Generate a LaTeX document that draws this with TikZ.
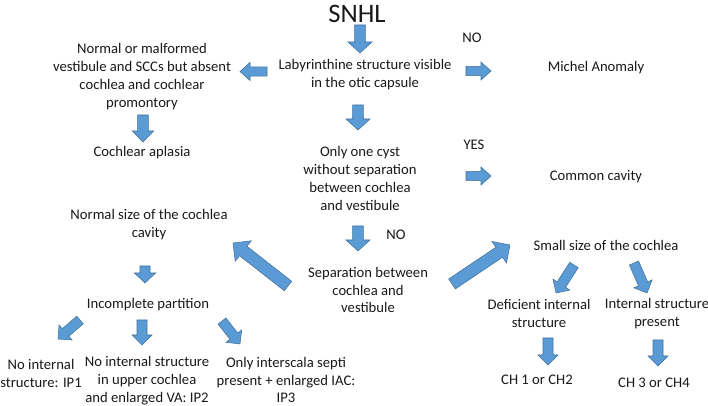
\documentclass[tikz,border=0pt]{standalone}
\usepackage{fontspec}
\setmainfont{Carlito}
\usetikzlibrary{calc}
\definecolor{arrowblue}{RGB}{91,155,213}
\definecolor{arrowedge}{RGB}{65,113,156}
\tikzset{
  txt/.style={font=\fontsize{11}{13.4}\selectfont, align=center, inner sep=1pt, text=black!90},
  barrow/.style={fill=arrowblue, draw=arrowedge, line width=0.4pt, line join=miter},
}
% block arrow: tail, tip, half shaft, half head, head length
\newcommand{\blockarrow}[5]{%
  \coordinate (ba-s) at #1;
  \coordinate (ba-e) at #2;
  \coordinate (ba-h) at ($(ba-e)!#5!(ba-s)$);
  \draw[barrow] ($(ba-s)!#3!-90:(ba-e)$) -- ($(ba-h)!#3!90:(ba-s)$) -- ($(ba-h)!#4!90:(ba-s)$) -- (ba-e)
    -- ($(ba-h)!#4!-90:(ba-s)$) -- ($(ba-h)!#3!-90:(ba-s)$) -- ($(ba-s)!#3!90:(ba-e)$) -- cycle;}
\begin{document}
\begin{tikzpicture}[x=0.75pt,y=-0.75pt]
	\useasboundingbox (0,0) rectangle (708,406);
	% top
	\node[txt,font=\fontsize{20}{24}\selectfont] (snhl) at (357,14) {SNHL};
	\node[txt] (lab) at (365,75) {Labyrinthine structure visible\\in the otic capsule};
	\node[txt] (malf) at (142,76.5) {Normal or malformed\\vestibule and SCCs but absent\\cochlea and cochlear\\promontory};
	\node[txt] (aplasia) at (142,153) {Cochlear aplasia};
	\node[txt] (no1) at (472,38) {NO};
	\node[txt] (michel) at (596,68) {Michel Anomaly};
	% middle
	\node[txt] (cyst) at (360,178.5) {Only one cyst\\without separation\\between cochlea\\and vestibule};
	\node[txt] (yes) at (474,145) {YES};
	\node[txt] (common) at (596,177) {Common cavity};
	\node[txt] (no2) at (396,235) {NO};
	\node[txt] (sep) at (368,290) {Separation between\\cochlea and\\vestibule};
	% left branch
	\node[txt] (normal) at (149,224.5) {Normal size of the cochlea\\cavity};
	\node[txt] (incomplete) at (148,305) {Incomplete partition};
	\node[txt] (ip1) at (41,373.5) {No internal\\structure: IP1};
	\node[txt] (ip2) at (147,381) {No internal structure\\in upper cochlea\\and enlarged VA: IP2};
	\node[txt] (ip3) at (286,380) {Only interscala septi\\present + enlarged IAC:\\IP3};
	% right branch
	\node[txt] (small) at (606,245) {Small size of the cochlea};
	\node[txt] (deficient) at (539,313.5) {Deficient internal\\structure};
	\node[txt] (internal) at (657,313.5) {Internal structure\\present};
	\node[txt] (ch12) at (537,380) {CH 1 or CH2};
	\node[txt] (ch34) at (654,383) {CH 3 or CH4};
	% arrows
	\blockarrow{($(snhl)+(3,11)$)}{($(lab)+(-5,-22)$)}{4.1pt}{9pt}{8.25pt}
	\blockarrow{($(lab)+(-98,-3.5)$)}{($(malf)+(98,-5)$)}{3.4pt}{6.75pt}{7.5pt}
	\blockarrow{($(lab)+(101,-4)$)}{($(michel)+(-105,3)$)}{3.4pt}{6.75pt}{7.5pt}
	\blockarrow{($(malf)+(1,38.5)$)}{($(aplasia)+(1,-11)$)}{4.1pt}{8pt}{8.25pt}
	\blockarrow{($(lab)+(-7,30)$)}{($(cyst)+(-2,-48.5)$)}{4.1pt}{9pt}{8.25pt}
	\blockarrow{($(cyst)+(106,-2.5)$)}{($(common)+(-105,-1)$)}{3.4pt}{6.75pt}{7.5pt}
	\blockarrow{($(cyst)+(-2,47.5)$)}{($(sep)+(-10,-39)$)}{4.1pt}{9pt}{8.25pt}
	\blockarrow{($(sep)+(-80,-4)$)}{($(normal)+(84,18.5)$)}{4.5pt}{9.75pt}{9.75pt}
	\blockarrow{($(sep)+(84,-6)$)}{($(small)+(-96,0)$)}{4.5pt}{9.75pt}{9.75pt}
	\blockarrow{($(normal)+(-4,41.5)$)}{($(incomplete)+(-3,-22)$)}{3.75pt}{8pt}{7.5pt}
	\blockarrow{($(incomplete)+(-68,15)$)}{($(ip1)+(17,-34.5)$)}{3.75pt}{7.5pt}{7.5pt}
	\blockarrow{($(incomplete)+(-6,15)$)}{($(ip2)+(-5,-36)$)}{3.75pt}{7.5pt}{7.5pt}
	\blockarrow{($(incomplete)+(74,16)$)}{($(ip3)+(-46,-36)$)}{3.75pt}{7.5pt}{7.5pt}
	\blockarrow{($(small)+(-32,20)$)}{($(deficient)+(17,-20.5)$)}{3.75pt}{7.5pt}{7.5pt}
	\blockarrow{($(small)+(28,18)$)}{($(internal)+(-10,-20.5)$)}{3.75pt}{7.5pt}{7.5pt}
	\blockarrow{($(deficient)+(9,24.5)$)}{($(ch12)+(11,-15)$)}{3.75pt}{7.5pt}{7.5pt}
	\blockarrow{($(internal)+(1,26.5)$)}{($(ch34)+(4,-17)$)}{3.75pt}{7.5pt}{7.5pt}
\end{tikzpicture}
\end{document}
